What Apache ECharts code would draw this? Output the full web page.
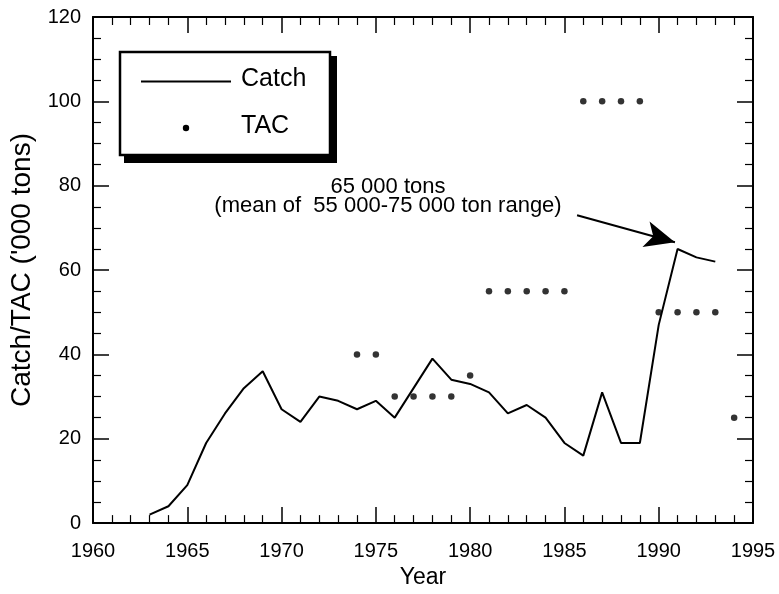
<!DOCTYPE html>
<html>
<head>
<meta charset="utf-8">
<script src="https://cdn.jsdelivr.net/npm/echarts@6/dist/echarts.min.js"></script>
<style>
html,body{margin:0;padding:0;background:#fff;}
#chart{width:779px;height:594px;}
</style>
</head>
<body>
<div id="chart"></div>
<script>
// ---- data ----
const catchYears = [1963,1964,1965,1966,1967,1968,1969,1970,1971,1972,1973,1974,1975,1976,1977,1978,1979,1980,1981,1982,1983,1984,1985,1986,1987,1988,1989,1990,1991,1992,1993];
const catchValues = [2,4,9,19,26,32,36,27,24,30,29,27,29,25,32,39,34,33,31,26,28,25,19,16,31,19,19,47,65,63,62];
const tacYears = [1974,1975,1976,1977,1978,1979,1980,1981,1982,1983,1984,1985,1986,1987,1988,1989,1990,1991,1992,1993,1994];
const tacValues = [40,40,30,30,30,30,35,55,55,55,55,55,100,100,100,100,50,50,50,50,25];
const xTickLabels = ['1960','1965','1970','1975','1980','1985','1990','1995'];
const yTickLabels = ['0','20','40','60','80','100','120'];
const annotationLines = ['65 000 tons', '(mean of  55 000-75 000 ton range)'];
const arrowFrom = [1985.67, 73.0];
const arrowTo = [1990.86, 66.6];

const FONT = '"Liberation Sans", Arial, Helvetica, sans-serif';
const chart = echarts.init(document.getElementById('chart'), null, {renderer: 'canvas'});

const axisBase = {
  type: 'value',
  axisLine: {show: true, onZero: false, lineStyle: {color: '#000', width: 2}},
  axisTick: {show: true, inside: true, length: 16, lineStyle: {color: '#000', width: 1.5}},
  minorTick: {show: true, length: 8, lineStyle: {color: '#000', width: 1.2}},
  splitLine: {show: false}
};

const option = {
  animation: false,
  backgroundColor: '#fff',
  grid: {left: 93, right: 26, top: 17, bottom: 69, containLabel: false},
  xAxis: [
    Object.assign({}, axisBase, {
      position: 'bottom', min: 1960, max: 1995, interval: 5,
      minorTick: Object.assign({}, axisBase.minorTick, {splitNumber: 5}),
      axisLabel: {show: true, margin: 18, color: '#000', fontSize: 20, fontFamily: FONT,
        formatter: function (v) { const s = String(Math.round(v)); return xTickLabels.indexOf(s) >= 0 ? s : ''; }},
      name: 'Year', nameLocation: 'middle', nameGap: 42,
      nameTextStyle: {color: '#000', fontSize: 23, fontFamily: FONT}
    }),
    Object.assign({}, axisBase, {
      position: 'top', min: 1960, max: 1995, interval: 5,
      minorTick: Object.assign({}, axisBase.minorTick, {splitNumber: 5}),
      axisLabel: {show: false}
    })
  ],
  yAxis: [
    Object.assign({}, axisBase, {
      position: 'left', min: 0, max: 120, interval: 20,
      minorTick: Object.assign({}, axisBase.minorTick, {splitNumber: 4}),
      axisLabel: {show: true, margin: 12, color: '#000', fontSize: 20, fontFamily: FONT,
        formatter: function (v) { const s = String(Math.round(v)); return yTickLabels.indexOf(s) >= 0 ? s : ''; }},
      name: "Catch/TAC ('000 tons)", nameLocation: 'middle', nameGap: 55, nameRotate: 90,
      nameTextStyle: {color: '#000', fontSize: 28, fontFamily: FONT}
    }),
    Object.assign({}, axisBase, {
      position: 'right', min: 0, max: 120, interval: 20,
      minorTick: Object.assign({}, axisBase.minorTick, {splitNumber: 4}),
      axisLabel: {show: false}
    })
  ],
  series: [
    {
      name: 'Catch', type: 'line', xAxisIndex: 0, yAxisIndex: 0,
      data: catchYears.map((y, i) => [y, catchValues[i]]),
      showSymbol: false, symbol: 'none',
      lineStyle: {color: '#000', width: 2},
      itemStyle: {color: '#000'},
      z: 3,
      markLine: {
        silent: true, animation: false,
        symbol: ['none', 'arrow'], symbolSize: [20, 30],
        lineStyle: {color: '#000', width: 2, type: 'solid'},
        label: {show: false},
        data: [[{coord: arrowFrom}, {coord: arrowTo}]]
      }
    },
    {
      name: 'TAC', type: 'scatter', xAxisIndex: 0, yAxisIndex: 0,
      data: tacYears.map((y, i) => [y, tacValues[i]]),
      symbol: 'circle', symbolSize: 6.5,
      itemStyle: {color: '#000'},
      z: 4
    }
  ],
  graphic: [
    // legend box with drop shadow
    {type: 'rect', z: 10, shape: {x: 124, y: 56, width: 213, height: 107}, style: {fill: '#000'}},
    {type: 'rect', z: 11, shape: {x: 120, y: 52, width: 210, height: 103}, style: {fill: '#fff', stroke: '#000', lineWidth: 2.5}},
    {type: 'line', z: 12, shape: {x1: 141, y1: 81.5, x2: 231, y2: 81.5}, style: {stroke: '#000', lineWidth: 2}},
    {type: 'text', z: 12, style: {x: 241, y: 79, text: 'Catch', fill: '#000', font: '25px ' + FONT, textVerticalAlign: 'middle', textAlign: 'left'}},
    {type: 'circle', z: 12, shape: {cx: 186, cy: 128, r: 3.2}, style: {fill: '#000'}},
    {type: 'text', z: 12, style: {x: 241, y: 126, text: 'TAC', fill: '#000', font: '25px ' + FONT, textVerticalAlign: 'middle', textAlign: 'left'}},
    // annotation text
    {type: 'text', z: 12, style: {x: 388, y: 187, text: annotationLines[0], fill: '#000', font: '22px ' + FONT, textAlign: 'center', textVerticalAlign: 'middle'}},
    {type: 'text', z: 12, style: {x: 388, y: 206, text: annotationLines[1], fill: '#000', font: '22px ' + FONT, textAlign: 'center', textVerticalAlign: 'middle'}}
  ]
};
chart.setOption(option);
</script>
</body>
</html>
